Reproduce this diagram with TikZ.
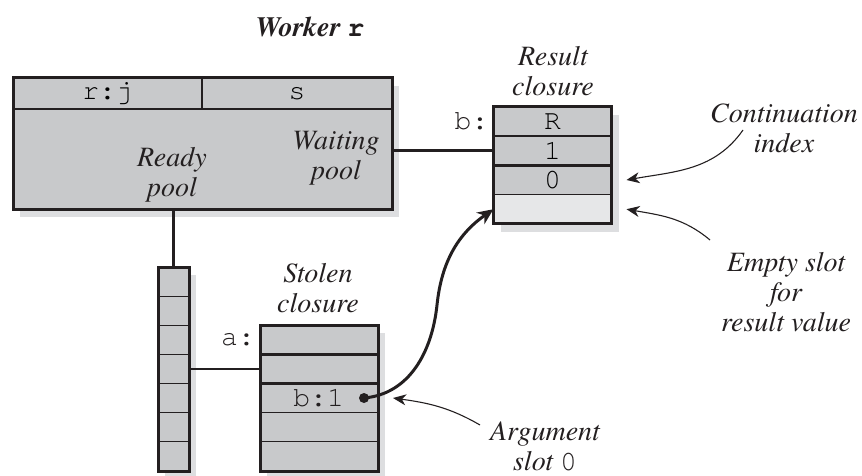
\documentclass[tikz,border=0pt]{standalone}
\usepackage{fontspec}
\setmainfont{TeX Gyre Termes}
\setmonofont{TeX Gyre Cursor}
\usetikzlibrary{positioning,arrows.meta,backgrounds,fit}

\definecolor{ink}{RGB}{35,31,32}
\definecolor{cellgray}{RGB}{200,201,203}
\definecolor{slotgray}{RGB}{230,231,232}
\definecolor{shadegray}{RGB}{221,222,224}
\newcommand{\figfont}{\fontsize{28}{30}\selectfont}

\begin{document}
\begin{tikzpicture}[x=1pt,y=-1pt,
  cell/.style={draw=ink,line width=1.2pt,fill=cellgray,inner sep=0pt,outer sep=0pt,minimum width=118pt,minimum height=29.2pt,font=\figfont\ttfamily},
  slot/.style={cell,minimum width=31pt,minimum height=29.14pt},
  frame/.style={draw=ink,line width=3pt,inner sep=0pt,outer sep=0pt},
  sep/.style={draw=ink,line width=2.6pt},
  wire/.style={draw=ink,line width=2.6pt},
  tag/.style={font=\figfont\ttfamily,inner sep=0pt,text=ink},
  note/.style={font=\figfont\itshape,align=center,inner sep=0pt,text=ink},
  pointer/.style={draw=ink,line width=3pt,-{Stealth[length=16pt,width=14pt,inset=5pt]}},
  hint/.style={draw=ink,line width=1.1pt,-{Stealth[length=13pt,width=11pt,inset=4pt]}},
  dot/.style={circle,fill=ink,inner sep=0pt,minimum size=10pt}]
\useasboundingbox (0,0) rectangle (862,476);

% worker r
\node[font=\figfont\bfseries\itshape,text=ink] (title) at (310,27) {Worker {\upshape\ttfamily r}};
\node[cell,minimum width=189pt,minimum height=31pt] (rj) at (107.5,93.5) {r:j};
\node[cell,minimum width=190pt,minimum height=31pt,right=0pt of rj] (s) {s};
\node[cell,minimum width=379pt,minimum height=100pt,anchor=north west] (pools) at (rj.south west) {};
\draw[sep] (rj.south west) -- (s.south east);
\draw[sep] (rj.north east) -- (rj.south east);
\node[frame,fit=(rj)(s)(pools)] (worker) {};
\node[note] (ready) at (172,175) {Ready\\pool};
\node[note] (waiting) at (336,158) {Waiting\\pool};

% result closure
\node[cell] (rR) at (552.5,121.6) {R};
\node[cell,below=0pt of rR] (r1) {1};
\node[cell,below=0pt of r1] (r0) {0};
\node[cell,fill=slotgray,below=0pt of r0] (rE) {};
\draw[sep] (rR.south west) -- (rR.south east);
\draw[sep] (r1.south west) -- (r1.south east);
\node[frame,fit=(rR)(rE)] (result) {};
\node[tag,left=5pt of rR] (bname) {b:};
\node[note] (resnote) at (553,71) {Result\\closure};

% ready pool
\node[slot] (p1) at (173.5,281.6) {};
\node[slot,below=0pt of p1] (p2) {};
\node[slot,below=0pt of p2] (p3) {};
\node[slot,below=0pt of p3] (p4) {};
\node[slot,below=0pt of p4] (p5) {};
\node[slot,below=0pt of p5] (p6) {};
\node[slot,below=0pt of p6] (p7) {};
\node[frame,fit=(p1)(p7)] (stack) {};

% stolen closure
\node[cell] (a0) at (319,339.6) {};
\node[cell,below=0pt of a0] (a1) {};
\node[cell,below=0pt of a1] (a2) {};
\node[cell,below=0pt of a2] (a3) {};
\node[cell,below=0pt of a3] (a4) {};
\draw[sep] (a0.south west) -- (a0.south east);
\draw[sep] (a1.south west) -- (a1.south east);
\node[frame,fit=(a0)(a4)] (stolen) {};
\node[tag,left=5pt of a0] (aname) {a:};
\node[tag,anchor=east] (bref) at ([xshift=-34pt]a2.east) {b:1};
\node[dot] (ptr) at ([xshift=-14pt]a2.east) {};
\node[note] (stolnote) at (318,288) {Stolen\\closure};

% notes
\node[note] (contnote) at (784,128) {Continuation\\index};
\node[note] (emptynote) at (786,292) {Empty slot\\for\\result value};
\node[note] (argnote) at (545,446) {Argument\\slot {\upshape\ttfamily 0}};

% connectors
\draw[wire] (stack.north |- worker.south) -- (stack.north);
\draw[wire] (r1.west -| worker.east) -- (r1.west);
\draw[wire] (a1.west -| stack.east) -- (a1.west);
\coordinate (bend) at (437,305);
\draw[pointer] (ptr.center) to[out=5,in=-96] (bend) to[out=84,in=215] (rE.west);
\coordinate (contfrom) at (743,130);
\draw[hint] (contfrom) to[out=-125,in=10] ([xshift=15pt]r0.east);
\coordinate (emptyfrom) at (710,240);
\draw[hint] (emptyfrom) to[out=140,in=-10] ([xshift=15pt]rE.east);
\coordinate (argfrom) at (480,425);
\draw[hint] (argfrom) to[out=150,in=-8] ([xshift=15pt]a2.east);

% shadows
\begin{scope}[on background layer]
\fill[shadegray] ([shift={(7,8)}]worker.north west) rectangle ([shift={(7,8)}]worker.south east);
\fill[shadegray] ([shift={(7,8)}]result.north west) rectangle ([shift={(7,8)}]result.south east);
\fill[shadegray] ([shift={(7,8)}]stack.north west) rectangle ([shift={(7,8)}]stack.south east);
\fill[shadegray] ([shift={(7,8)}]stolen.north west) rectangle ([shift={(7,8)}]stolen.south east);
\end{scope}
\end{tikzpicture}
\end{document}
